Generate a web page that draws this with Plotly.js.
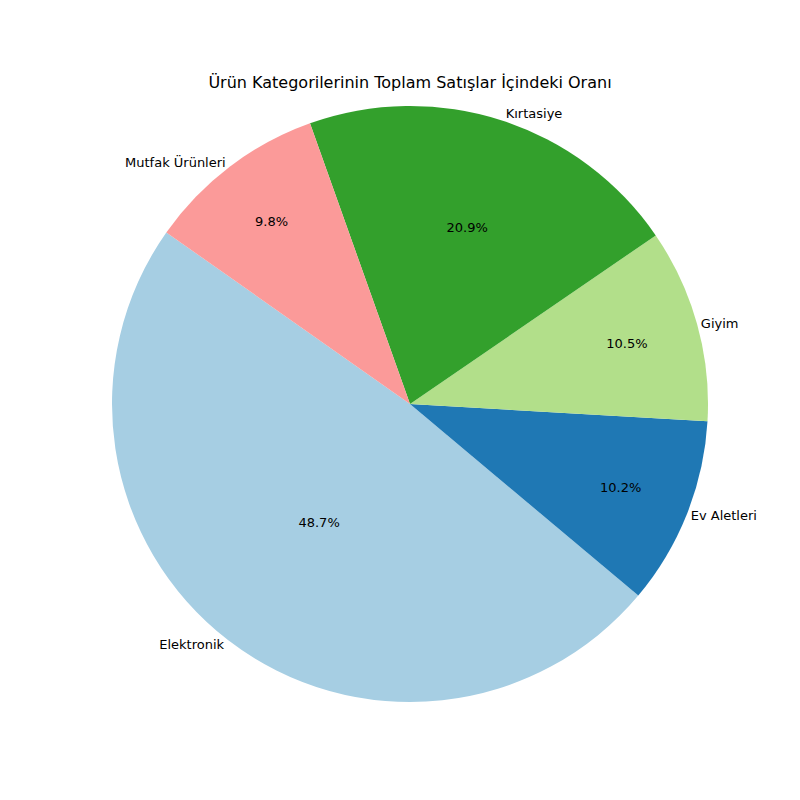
<!DOCTYPE html>
<html><head><script src="https://cdn.plot.ly/plotly-3.0.1.min.js"></script></head>
<body style="margin:0"><div id="c" style="width:800px;height:800px"></div>
<script>
const categories = ["Elektronik","Ev Aletleri","Giyim","Kırtasiye","Mutfak Ürünleri"];
const shares = [48.7,10.2,10.5,20.9,9.8];
const colors = ["#a6cee3","#1f78b4","#b2df8a","#33a02c","#fb9a99"];
const dom = {x:[0.14,0.885], y:[0.1225,0.8675]};
const common = {type:"pie", labels:categories, values:shares, sort:false, direction:"counterclockwise", rotation:130, domain:dom, hoverinfo:"none", automargin:false};
Plotly.newPlot("c",[
 Object.assign({}, common, {marker:{colors:colors}, textinfo:"percent", texttemplate:"%{percent:.1%}", textposition:"inside", insidetextorientation:"horizontal", textfont:{family:"DejaVu Sans", size:13, color:"#000"}, showlegend:false}),
 Object.assign({}, common, {marker:{colors:colors.map(()=> "rgba(0,0,0,0)")}, textinfo:"label", textposition:"outside", outsidetextfont:{family:"DejaVu Sans", size:13, color:"#000"}, showlegend:false})
],{
 width:800,height:800,margin:{l:0,r:0,t:0,b:0},paper_bgcolor:"#fff",
 title:{text:"Ürün Kategorilerinin Toplam Satışlar İçindeki Oranı", font:{family:"DejaVu Sans", size:16, color:"#000"}, x:0.5125, xanchor:"center", y:0.897, yanchor:"middle"}
},{staticPlot:true});
</script></body></html>
